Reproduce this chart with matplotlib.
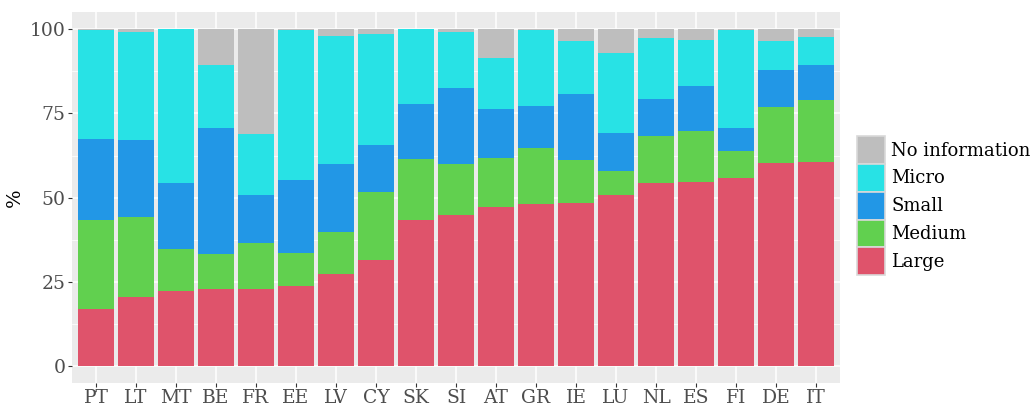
import matplotlib
matplotlib.use("Agg")
import matplotlib.pyplot as plt
from matplotlib.patches import Patch
import numpy as np

countries = ["PT", "LT", "MT", "BE", "FR", "EE", "LV", "CY", "SK", "SI",
             "AT", "GR", "IE", "LU", "NL", "ES", "FI", "DE", "IT"]
large = [16.8, 20.6, 22.4, 22.9, 22.9, 23.7, 27.2, 31.5, 43.3, 44.8,
         47.1, 48.0, 48.3, 50.7, 54.3, 54.6, 55.7, 60.4, 60.7]
medium = [26.7, 23.6, 12.2, 10.3, 13.5, 10.0, 12.5, 20.3, 18.1, 15.2,
          14.6, 16.7, 12.9, 7.3, 13.9, 15.1, 8.1, 16.4, 18.3]
small = [23.8, 23.0, 19.7, 37.6, 14.3, 21.4, 20.3, 13.7, 16.3, 22.6,
         14.6, 12.5, 19.5, 11.1, 11.2, 13.5, 6.8, 11.2, 10.4]
micro = [32.6, 32.0, 45.7, 18.7, 18.3, 44.8, 38.0, 33.0, 22.3, 16.6,
         15.3, 22.6, 15.7, 23.8, 18.0, 13.6, 29.3, 8.6, 8.2]
no_info = [0.1, 0.8, 0.0, 10.5, 31.0, 0.1, 2.0, 1.5, 0.0, 0.8,
           8.4, 0.2, 3.6, 7.1, 2.6, 3.2, 0.1, 3.4, 2.4]

series_names = ["Large", "Medium", "Small", "Micro", "No information"]
series_vals = [large, medium, small, micro, no_info]
colors = ["#DF536B", "#61D04F", "#2297E6", "#28E2E5", "#BEBEBE"]

plt.rcParams["font.family"] = ["DejaVu Serif"]

fig = plt.figure(figsize=(10.31, 4.04), dpi=100)
ax = fig.add_axes([0.0698, 0.052, 0.745, 0.918])
ax.set_facecolor("#EBEBEB")

x = np.arange(len(countries))
bottom = np.zeros(len(countries))
for name, vals, col in zip(series_names, series_vals, colors):
    v = np.array(vals)
    ax.bar(x, v, bottom=bottom, width=0.9, color=col, linewidth=0, zorder=3)
    bottom += v

ax.set_xlim(-0.6, len(countries) - 0.4)
ax.set_ylim(-5.05, 105.1)
ax.set_yticks([0, 25, 50, 75, 100])
ax.set_yticks([12.5, 37.5, 62.5, 87.5], minor=True)
ax.set_xticks(x)
ax.set_xticklabels(countries)
ax.grid(True, which="major", color="white", linewidth=1.1, zorder=0)
ax.grid(True, which="minor", axis="y", color="white", linewidth=0.55, zorder=0)
ax.tick_params(axis="both", which="major", length=3, color="#333333",
               labelcolor="#4D4D4D", labelsize=13.5, width=0.8, pad=1.5)
ax.tick_params(axis="x", which="major", pad=1)
ax.tick_params(axis="both", which="minor", length=0)
for s in ax.spines.values():
    s.set_visible(False)
ax.set_ylabel("%", fontsize=14, color="black", labelpad=4)

handles = [Patch(facecolor=c, edgecolor="#D9D9D9", linewidth=1.2, label=n)
           for n, c in zip(series_names[::-1], colors[::-1])]
leg = fig.legend(handles=handles, loc="center left", bbox_to_anchor=(0.831, 0.491),
                 frameon=False, fontsize=13, handlelength=1.55, handleheight=2.0,
                 handletextpad=0.35, labelspacing=0.0, borderaxespad=0,
                 borderpad=0)

fig.savefig("out.png", dpi=100)
